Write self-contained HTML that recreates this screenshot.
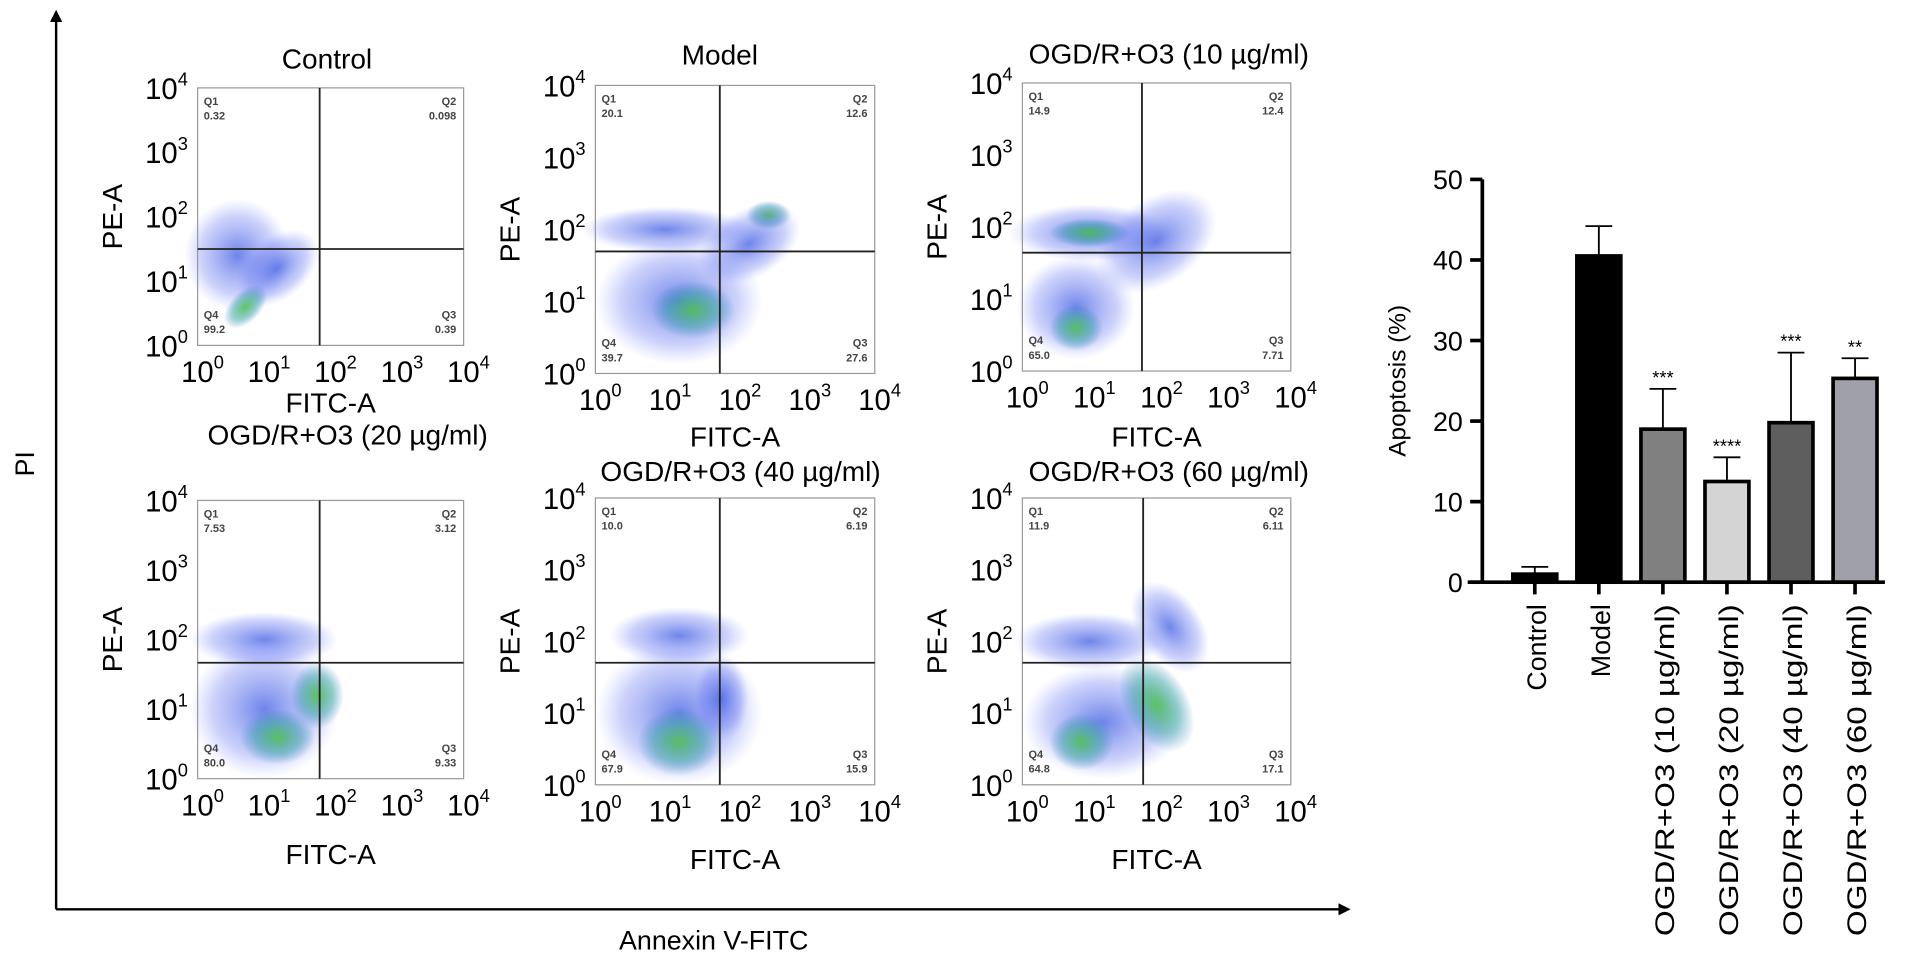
<!DOCTYPE html>
<html><head><meta charset="utf-8"><style>
html,body{margin:0;padding:0;background:#fff;width:1913px;height:963px;overflow:hidden}
svg{display:block;font-family:"Liberation Sans",Arial,sans-serif}
</style></head><body>
<svg id="fig" width="1913" height="963" viewBox="0 0 1568 789" preserveAspectRatio="none" xmlns="http://www.w3.org/2000/svg">
<defs>
<radialGradient id="gBlue"><stop offset="0" stop-color="#3050e0" stop-opacity="0.7"/><stop offset="0.7" stop-color="#5a6cf0" stop-opacity="0.3"/><stop offset="1" stop-color="#8090ff" stop-opacity="0"/></radialGradient>
<radialGradient id="gGreen"><stop offset="0" stop-color="#50c050" stop-opacity="0.9"/><stop offset="0.6" stop-color="#30a0a0" stop-opacity="0.5"/><stop offset="1" stop-color="#3080c0" stop-opacity="0"/></radialGradient>
<marker id="arr" markerWidth="10" markerHeight="10" refX="8" refY="5" orient="auto" markerUnits="userSpaceOnUse"><path d="M0,0 L10,5 L0,10 Z" fill="#000"/></marker>
</defs>
<line x1="46" y1="745" x2="46" y2="10" stroke="#000" stroke-width="2" marker-end="url(#arr)"/>
<line x1="46" y1="745" x2="1105" y2="745" stroke="#000" stroke-width="2" marker-end="url(#arr)"/>
<text transform="translate(28,380) rotate(-90)" text-anchor="middle" font-size="22">PI</text>
<text x="585" y="778" text-anchor="middle" font-size="22">Annexin V-FITC</text>
<g id="panels"></g>
<g id="bars"></g>
</svg>
<script>
const NS="http://www.w3.org/2000/svg";
function mk(tag,attrs,parent,txt){const e=document.createElementNS(NS,tag);for(const k in attrs)e.setAttribute(k,attrs[k]);if(txt!==undefined)e.textContent=txt;parent.appendChild(e);return e;}

// ---- Flow panels ----
const panelTitles=["Control","Model","OGD/R+O3 (10 µg/ml)","OGD/R+O3 (20 µg/ml)","OGD/R+O3 (40 µg/ml)","OGD/R+O3 (60 µg/ml)"];
const q1Vals=["0.32","20.1","14.9","7.53","10.0","11.9"];
const q2Vals=["0.098","12.6","12.4","3.12","6.19","6.11"];
const q3Vals=["0.39","27.6","7.71","9.33","15.9","17.1"];
const q4Vals=["99.2","39.7","65.0","80.0","67.9","64.8"];
const decadeExp=["0","1","2","3","4"];
const layout=[
 {x0:162,x1:380,y0:72,y1:283,qv:262,qh:204,tx:268,ty:56,fy:338},
 {x0:488,x1:717,y0:70,y1:306,qv:590,qh:206,tx:590,ty:53,fy:366},
 {x0:838,x1:1058,y0:68,y1:304,qv:936,qh:207,tx:958,ty:52,fy:366},
 {x0:162,x1:380,y0:410,y1:638,qv:262,qh:543,tx:285,ty:364,fy:708},
 {x0:488,x1:717,y0:408,y1:643,qv:590,qh:543,tx:607,ty:394,fy:712},
 {x0:838,x1:1058,y0:408,y1:643,qv:937,qh:543,tx:958,ty:394,fy:712}
];
// clouds: [u,v,rx,ry,rot,type] in plot fraction
const clouds=[
 [[0.15,0.35,0.2,0.22,0,'b'],[0.3,0.3,0.18,0.12,-40,'b'],[0.18,0.15,0.1,0.06,-45,'g']],
 [[0.25,0.5,0.3,0.08,0,'b'],[0.3,0.25,0.3,0.22,0,'b'],[0.35,0.22,0.15,0.1,0,'g'],[0.62,0.55,0.08,0.05,0,'g'],[0.55,0.45,0.2,0.12,-30,'b']],
 [[0.25,0.48,0.3,0.1,0,'b'],[0.25,0.48,0.15,0.05,0,'g'],[0.2,0.22,0.22,0.18,0,'b'],[0.2,0.15,0.1,0.08,0,'g'],[0.5,0.45,0.25,0.15,-35,'b']],
 [[0.25,0.5,0.28,0.1,0,'b'],[0.25,0.25,0.28,0.25,0,'b'],[0.3,0.15,0.14,0.1,0,'g'],[0.45,0.3,0.1,0.12,0,'g']],
 [[0.3,0.52,0.25,0.1,0,'b'],[0.3,0.25,0.3,0.25,0,'b'],[0.3,0.15,0.15,0.12,0,'g'],[0.45,0.3,0.1,0.15,0,'b']],
 [[0.25,0.5,0.28,0.1,0,'b'],[0.3,0.22,0.3,0.2,0,'b'],[0.22,0.15,0.12,0.1,0,'g'],[0.5,0.28,0.12,0.18,-30,'g'],[0.55,0.55,0.12,0.18,-35,'b']]
];
const pg=document.getElementById('panels');
layout.forEach((L,i)=>{
 const g=mk('g',{},pg);
 
 
 const W=L.x1-L.x0,H=L.y1-L.y0;
 const t=mk('text',{x:L.tx,y:L.ty,'text-anchor':'middle','font-size':23},g,panelTitles[i]);
 
 
 clouds[i].forEach(c=>{
  const cx=L.x0+c[0]*W, cy=L.y1-c[1]*H;
  const e=mk('ellipse',{cx:cx,cy:cy,rx:c[2]*W,ry:c[3]*H,fill:c[5]==='g'?'url(#gGreen)':'url(#gBlue)',transform:`rotate(${c[4]},${cx},${cy})`},g);
  
  
 });
 const r=mk('rect',{x:L.x0,y:L.y0,width:W,height:H,fill:'none',stroke:'#999','stroke-width':1},g);
 
 
 const lv=mk('line',{x1:L.qv,y1:L.y0,x2:L.qv,y2:L.y1,stroke:'#222','stroke-width':1.5},g);
 
 
 const lh=mk('line',{x1:L.x0,y1:L.qh,x2:L.x1,y2:L.qh,stroke:'#222','stroke-width':1.5},g);
 
 
 const qs=[["Q1",q1Vals[i],L.x0+5,L.y0+14,'start'],["Q2",q2Vals[i],L.x1-6,L.y0+14,'end'],["Q3",q3Vals[i],L.x1-6,L.y1-22,'end'],["Q4",q4Vals[i],L.x0+5,L.y1-22,'start']];
 qs.forEach(q=>{
  const a=mk('text',{x:q[2],y:q[3],'text-anchor':q[4],'font-size':9,fill:'#444','font-weight':'bold'},g,q[0]);
  
  
  const b=mk('text',{x:q[2],y:q[3]+12,'text-anchor':q[4],'font-size':9,fill:'#444','font-weight':'bold'},g,q[1]);
  
  
 });
 decadeExp.forEach((ex,k)=>{
  const yy=L.y1-k*H/4;
  const yt=mk('text',{x:L.x0-8,y:yy+9,'text-anchor':'end','font-size':24},g);
  
  
  mk('tspan',{},yt,'10');
  mk('tspan',{dy:-11,'font-size':15},yt,ex);
  const xx=L.x0+k*W/4;
  const xt=mk('text',{x:xx+4,y:L.y1+30,'text-anchor':'middle','font-size':24},g);
  
  
  mk('tspan',{},xt,'10');
  mk('tspan',{dy:-11,'font-size':15},xt,ex);
 });
 const fa=mk('text',{x:(L.x0+L.x1)/2,y:L.fy,'text-anchor':'middle','font-size':23},g,'FITC-A');
 
 
 const ym=(L.y0+L.y1)/2;
 const pa=mk('text',{transform:`translate(${L.x0-62},${ym}) rotate(-90)`,'text-anchor':'middle','font-size':23},g,'PE-A');
 
 
});

// ---- Bar chart ----
const barCats=["Control","Model","OGD/R+O3 (10 µg/ml)","OGD/R+O3 (20 µg/ml)","OGD/R+O3 (40 µg/ml)","OGD/R+O3 (60 µg/ml)"];
const barVals=[1.0,40.5,19.0,12.5,19.8,25.3];
const barErr=[0.9,3.7,5.0,3.0,8.7,2.5];
const barStars=["","","***","****","***","**"];
const barFills=["#000","#000","#808080","#d4d4d4","#5e5e5e","#a0a0a8"];
const yTicks=[0,10,20,30,40,50];
const ax={x:1215,y0:477,yTop:147,xEnd:1545,first:1258,step:52.5,bw:36};
const yS=v=>ax.y0-(v/50)*(ax.y0-ax.yTop);
const xS=i=>ax.first+i*ax.step;
const bg=document.getElementById('bars');


const yl=mk('line',{x1:ax.x,y1:ax.yTop,x2:ax.x,y2:ax.y0,stroke:'#000','stroke-width':3},bg);


yTicks.forEach(v=>{
 const tk=mk('line',{x1:ax.x-10,y1:yS(v),x2:ax.x,y2:yS(v),stroke:'#000','stroke-width':3},bg);
 
 
 const tl=mk('text',{x:ax.x-16,y:yS(v)+8,'text-anchor':'end','font-size':22},bg,String(v));
 
 
});
const yt=mk('text',{transform:`translate(1152,${(ax.y0+ax.yTop)/2}) rotate(-90)`,'text-anchor':'middle','font-size':20},bg,'Apoptosis (%)');


barCats.forEach((c,i)=>{
 const x=xS(i),top=yS(barVals[i]),et=yS(barVals[i]+barErr[i]);
 const el=mk('line',{x1:x,y1:top,x2:x,y2:et,stroke:'#000','stroke-width':1.5},bg);
 
 
 const ec=mk('line',{x1:x-11,y1:et,x2:x+11,y2:et,stroke:'#000','stroke-width':1.5},bg);
 
 
 const r=mk('rect',{x:x-ax.bw/2,y:top,width:ax.bw,height:ax.y0-top,fill:barFills[i],stroke:'#000','stroke-width':3},bg);
 
 
 if(barStars[i]){
  const s=mk('text',{x:x,y:et-4,'text-anchor':'middle','font-size':15},bg,barStars[i]);
  
  
 }
 const tk=mk('line',{x1:x,y1:ax.y0,x2:x,y2:ax.y0+10,stroke:'#000','stroke-width':3},bg);
 
 
 const lb=mk('text',{transform:`translate(${x+9},${ax.y0+18}) rotate(-90)`,'text-anchor':'end','font-size':22,textLength:c.length>10?272:null,lengthAdjust:'spacingAndGlyphs'},bg,c);
 if(c.length<=10)lb.removeAttribute('textLength');
 
 
});
const xl=mk('line',{x1:ax.x-12,y1:ax.y0,x2:ax.xEnd,y2:ax.y0,stroke:'#000','stroke-width':3},bg);


</script>
</body></html>
